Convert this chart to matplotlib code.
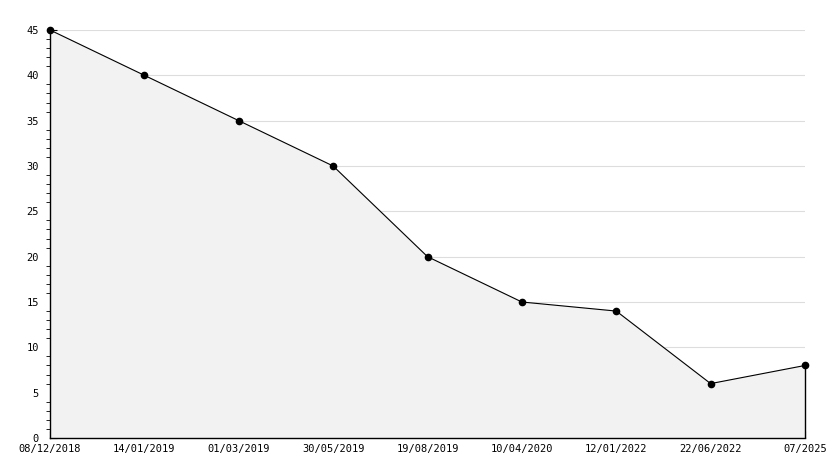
import matplotlib.pyplot as plt
from matplotlib.ticker import MultipleLocator

# Données
dates = ["08/12/2018", "14/01/2019", "01/03/2019", "30/05/2019", "19/08/2019",
         "10/04/2020", "12/01/2022", "22/06/2022", "07/2025"]
values = [45, 40, 35, 30, 20, 15, 14, 6, 8]

plt.rcParams['font.family'] = 'DejaVu Sans Mono'

fig = plt.figure(figsize=(8.34, 4.68), dpi=100)
ax = fig.add_axes([50 / 834, 30 / 468, 755 / 834, 408 / 468])

x = list(range(len(values)))
ax.fill_between(x, values, 0, color="#f2f2f2", zorder=1)
ax.plot(x, values, color="black", linewidth=0.8, marker="o", markersize=4.5, zorder=3,
        clip_on=False)
ax.vlines(x[-1], 0, values[-1], color="black", linewidth=1, zorder=2, clip_on=False)

ax.set_xlim(0, len(values) - 1)
ax.set_ylim(0, 45)
ax.yaxis.set_major_locator(MultipleLocator(5))
ax.yaxis.set_minor_locator(MultipleLocator(1))
ax.set_xticks(x)
ax.set_xticklabels(dates)
ax.grid(axis="y", color="#dddddd", linewidth=0.8, zorder=0)
ax.set_axisbelow(True)

for s in ["top", "right"]:
    ax.spines[s].set_visible(False)
ax.spines["left"].set_linewidth(1)
ax.spines["bottom"].set_linewidth(1)

ax.tick_params(axis="both", direction="in", labelsize=7.5, colors="black")
ax.tick_params(axis="y", which="major", length=5, pad=8)
ax.tick_params(axis="y", which="minor", length=3)
ax.tick_params(axis="x", length=5, pad=4)

# le "0" est un peu remonté comme sur l'original
ax.get_yticklabels()[0].set_verticalalignment("bottom")

fig.savefig("out.png", dpi=100)
